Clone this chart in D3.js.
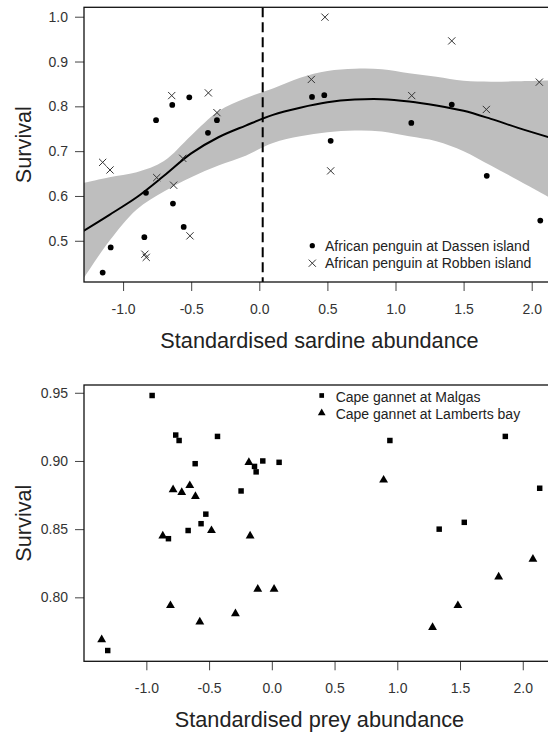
<!DOCTYPE html>
<html>
<head>
<meta charset="utf-8">
<script src="https://cdn.jsdelivr.net/npm/d3@7"></script>
<style>
	body { margin: 0; background: #fff; }
	svg { display: block; font-family: 'Liberation Sans', Arial, sans-serif; }
</style>
</head>
<body>
<svg id="chart"></svg>
<script>
	'use strict';

	// top panel: penguins vs sardine
	var dassenX = [-1.150, -1.091, -0.844, -0.832, -0.758, -0.639, -0.634, -0.555, -0.514, -0.377, -0.311,
			0.387, 0.477, 0.524, 1.116, 1.413, 1.670, 2.063],
		dassenY = [0.429, 0.485, 0.508, 0.607, 0.769, 0.803, 0.583, 0.531, 0.820, 0.741, 0.769,
			0.821, 0.825, 0.723, 0.763, 0.804, 0.645, 0.545],
		robbenX = [-1.150, -1.096, -0.840, -0.830, -0.753, -0.643, -0.629, -0.562, -0.509, -0.374, -0.311,
			0.382, 0.482, 0.524, 1.119, 1.413, 1.667, 2.056],
		robbenY = [0.675, 0.658, 0.470, 0.463, 0.641, 0.824, 0.624, 0.684, 0.511, 0.830, 0.786,
			0.860, 0.999, 0.656, 0.824, 0.946, 0.793, 0.854];

	var fitX = [-1.29, -1.1, -0.9, -0.7, -0.5, -0.3, -0.1, 0.1, 0.3, 0.5, 0.7, 0.9, 1.1, 1.3, 1.5, 1.7, 1.9, 2.17],
		fitY = [0.522, 0.558, 0.597, 0.645, 0.695, 0.731, 0.757, 0.781, 0.797, 0.809, 0.815, 0.816, 0.811, 0.802, 0.790, 0.772, 0.752, 0.727],
		fitLow = [0.416, 0.500, 0.570, 0.610, 0.642, 0.668, 0.690, 0.718, 0.733, 0.742, 0.746, 0.744, 0.733, 0.722, 0.700, 0.668, 0.635, 0.590],
		fitHigh = [0.629, 0.642, 0.653, 0.678, 0.735, 0.789, 0.818, 0.840, 0.864, 0.879, 0.884, 0.883, 0.874, 0.866, 0.857, 0.855, 0.856, 0.858];

	var thresholdX = 0.025;

	// bottom panel: gannets vs prey
	var malgasX = [-0.954, -0.766, -0.739, -0.433, -0.611, -0.072, -0.138, -0.125, 0.058, -0.245, -0.526,
			-0.564, -0.667, -0.824, 0.941, 1.861, 2.135, 1.334, 1.534, -1.308],
		malgasY = [0.948, 0.919, 0.915, 0.918, 0.898, 0.900, 0.896, 0.892, 0.899, 0.878, 0.861,
			0.854, 0.849, 0.843, 0.915, 0.918, 0.880, 0.850, 0.855, 0.761],
		lambertsX = [-0.787, -0.718, -0.654, -0.609, -0.869, -0.481, -0.183, -0.173, -0.808, -0.574,
			-0.290, -0.112, 0.018, 0.891, 2.081, 1.808, 1.483, 1.281, -1.356],
		lambertsY = [0.879, 0.877, 0.882, 0.874, 0.845, 0.849, 0.899, 0.845, 0.794, 0.782,
			0.788, 0.806, 0.806, 0.886, 0.828, 0.815, 0.794, 0.778, 0.769];

	var xTicks = [-1.0, -0.5, 0.0, 0.5, 1.0, 1.5, 2.0],
		topYTicks = [0.5, 0.6, 0.7, 0.8, 0.9, 1.0],
		bottomYTicks = [0.80, 0.85, 0.90, 0.95];

	(function () {
		var w = 548,
			h = 732,
			left = 84,
			right = 555,
			svg,
			upper,
			lower,
			fit;

		svg = d3.select('#chart')
			.attr('width', w)
			.attr('height', h);

		function fmt(spec) {
			var f = d3.format(spec);
			return function (d) { return f(d).replace('\u2212', '-'); };
		}

		function panel(y0, y1, xDomain, yDomain, yTicks, yFmt, xLabel, id) {
			var g = svg.append('g'),
				x = d3.scaleLinear().domain(xDomain).range([left, right]),
				y = d3.scaleLinear().domain(yDomain).range([y1, y0]);

			g.append('clipPath')
				.attr('id', id)
				.append('rect')
				.attr('x', left)
				.attr('y', y0)
				.attr('width', right - left)
				.attr('height', y1 - y0);

			g.append('g')
				.attr('transform', 'translate(0,' + y1 + ')')
				.call(d3.axisBottom(x).tickValues(xTicks).tickFormat(fmt('.1f')).tickSize(9).tickPadding(13))
				.call(function (a) { a.select('.domain').remove(); });

			g.append('g')
				.attr('transform', 'translate(' + left + ',0)')
				.call(d3.axisLeft(y).tickValues(yTicks).tickFormat(fmt(yFmt)).tickSize(9).tickPadding(7))
				.call(function (a) { a.select('.domain').remove(); });

			g.selectAll('.tick text')
				.attr('font-size', 14)
				.attr('fill', '#333');
			g.selectAll('.tick line')
				.attr('stroke', '#444');
			g.selectAll('g').attr('font-family', null).attr('font-size', null);

			g.append('text')
				.attr('x', (left + right) / 2)
				.attr('y', y1 + 66)
				.attr('text-anchor', 'middle')
				.attr('font-size', 21.7)
				.attr('fill', '#222')
				.text(xLabel);

			g.append('text')
				.attr('transform', 'translate(31,' + (y0 + y1) / 2 + ') rotate(-90)')
				.attr('text-anchor', 'middle')
				.attr('font-size', 21.7)
				.attr('fill', '#222')
				.text('Survival');

			return { g: g, x: x, y: y, y0: y0, y1: y1, id: id };
		}

		function box(p) {
			p.g.append('rect')
				.attr('x', left)
				.attr('y', p.y0)
				.attr('width', right - left)
				.attr('height', p.y1 - p.y0)
				.attr('fill', 'none')
				.attr('stroke', '#111')
				.attr('stroke-width', 1.3);
		}

		function crossPath(px, py, s) {
			return 'M' + (px - s) + ',' + (py - s) + 'L' + (px + s) + ',' + (py + s) +
				'M' + (px - s) + ',' + (py + s) + 'L' + (px + s) + ',' + (py - s);
		}

		function crosses(p, xs, ys, s) {
			var pts = xs.map(function (d, i) { return [d, ys[i]]; });
			p.g.append('g').selectAll('path')
				.data(pts)
				.enter()
				.append('path')
				.attr('d', function (d) { return crossPath(p.x(d[0]), p.y(d[1]), s); })
				.attr('stroke', '#333')
				.attr('stroke-width', 1)
				.attr('fill', 'none');
		}

		function symbols(p, xs, ys, type, size) {
			var pts = xs.map(function (d, i) { return [d, ys[i]]; });
			p.g.append('g').selectAll('path')
				.data(pts)
				.enter()
				.append('path')
				.attr('transform', function (d) { return 'translate(' + p.x(d[0]) + ',' + p.y(d[1]) + ')'; })
				.attr('d', d3.symbol().type(type).size(size))
				.attr('fill', '#000');
		}

		function legend(p, labels, tx, ty, step) {
			p.g.selectAll('text.leg')
				.data(labels)
				.enter()
				.append('text')
				.attr('class', 'leg')
				.attr('x', tx)
				.attr('y', function (d, i) { return ty + i * step; })
				.attr('font-size', 14)
				.attr('fill', '#222')
				.text(function (d) { return d; });
		}

		// ---- top panel
		upper = panel(7.3, 282, [-1.287, 2.171], [0.408, 1.021], topYTicks, '.1f', 'Standardised sardine abundance', 'clipTop');

		fit = fitX.map(function (d, i) { return { x: d, y: fitY[i], lo: fitLow[i], hi: fitHigh[i] }; });

		upper.g.append('path')
			.datum(fit)
			.attr('clip-path', 'url(#clipTop)')
			.attr('fill', '#bebebe')
			.attr('d', d3.area()
				.curve(d3.curveCatmullRom)
				.x(function (d) { return upper.x(d.x); })
				.y0(function (d) { return upper.y(d.lo); })
				.y1(function (d) { return upper.y(d.hi); }));

		upper.g.append('path')
			.datum(fit)
			.attr('clip-path', 'url(#clipTop)')
			.attr('fill', 'none')
			.attr('stroke', '#000')
			.attr('stroke-width', 2)
			.attr('d', d3.line()
				.curve(d3.curveCatmullRom)
				.x(function (d) { return upper.x(d.x); })
				.y(function (d) { return upper.y(d.y); }));

		upper.g.append('line')
			.attr('x1', upper.x(thresholdX))
			.attr('x2', upper.x(thresholdX))
			.attr('y1', upper.y0)
			.attr('y2', upper.y1)
			.attr('stroke', '#000')
			.attr('stroke-width', 2)
			.attr('stroke-dasharray', '10,5');

		symbols(upper, dassenX, dassenY, d3.symbolCircle, 26);
		crosses(upper, robbenX, robbenY, 3.6);
		box(upper);

		upper.g.append('path')
			.attr('transform', 'translate(312.3,245.7)')
			.attr('d', d3.symbol().type(d3.symbolCircle).size(22))
			.attr('fill', '#000');
		upper.g.append('path')
			.attr('d', crossPath(312.3, 263.2, 3.6))
			.attr('stroke', '#333')
			.attr('fill', 'none');
		legend(upper, ['African penguin at Dassen island', 'African penguin at Robben island'], 325, 250.7, 17.5);

		// ---- bottom panel
		lower = panel(385, 661.3, [-1.497, 2.257], [0.7531, 0.9557], bottomYTicks, '.2f', 'Standardised prey abundance', 'clipBottom');

		symbols(lower, malgasX, malgasY, d3.symbolSquare, 30);
		symbols(lower, lambertsX, lambertsY, d3.symbolTriangle, 34);
		box(lower);

		lower.g.append('path')
			.attr('transform', 'translate(321.7,395.5)')
			.attr('d', d3.symbol().type(d3.symbolSquare).size(22))
			.attr('fill', '#000');
		lower.g.append('path')
			.attr('transform', 'translate(321.7,413)')
			.attr('d', d3.symbol().type(d3.symbolTriangle).size(26))
			.attr('fill', '#000');
		legend(lower, ['Cape gannet at Malgas', 'Cape gannet at Lamberts bay'], 335.7, 401.5, 17.6);
	})();
</script>
</body>
</html>
